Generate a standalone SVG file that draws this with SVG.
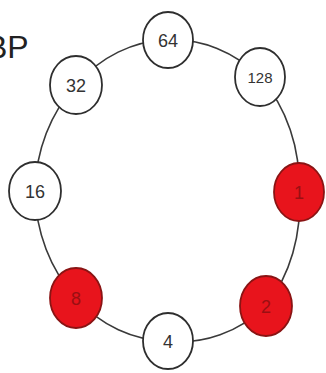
<svg xmlns="http://www.w3.org/2000/svg" width="326" height="373" viewBox="0 0 326 373">
  <style>
    .ring { fill: none; stroke: #3a3a3a; stroke-width: 1.6; }
    .node ellipse { fill: #ffffff; stroke: #2e2e2e; stroke-width: 1.8; }
    .node.on ellipse { fill: #e8141c; stroke: #8a1414; }
    .node text { font-family: "Liberation Sans", Arial, sans-serif; font-size: 18px; fill: #333333; text-anchor: middle; }
    .node.on text { fill: #9a0f12; }
    .title { font-family: "Liberation Sans", Arial, sans-serif; font-size: 32px; fill: #222222; }
  </style>
  <rect width="326" height="373" fill="#ffffff"/>
  <text class="title" x="-14" y="58">BP</text>

  <!-- ring connectors between neighbouring nodes -->
  <g id="connectors">
    <path class="ring" d="M168 40 A132 151 0 0 1 260 77"/>
    <path class="ring" d="M260 77 A132 151 0 0 1 299 192"/>
    <path class="ring" d="M299 192 A132 151 0 0 1 266 306"/>
    <path class="ring" d="M266 306 A132 151 0 0 1 168 341"/>
    <path class="ring" d="M168 341 A132 151 0 0 1 76 298"/>
    <path class="ring" d="M76 298 A132 151 0 0 1 35 191"/>
    <path class="ring" d="M35 191 A132 151 0 0 1 76 85"/>
    <path class="ring" d="M76 85 A132 151 0 0 1 168 40"/>
  </g>

  <g id="n64" class="node"><ellipse cx="168" cy="40" rx="25" ry="28"/><text x="168" y="47">64</text></g>
  <g id="n128" class="node"><ellipse cx="260" cy="77" rx="25" ry="29"/><text x="260" y="83" style="font-size:15px">128</text></g>
  <g id="n1" class="node on"><ellipse cx="299" cy="192" rx="25" ry="29"/><text x="299" y="199">1</text></g>
  <g id="n2" class="node on"><ellipse cx="266" cy="306" rx="26" ry="30"/><text x="266" y="313">2</text></g>
  <g id="n4" class="node"><ellipse cx="168" cy="341" rx="25" ry="28"/><text x="168" y="348">4</text></g>
  <g id="n8" class="node on"><ellipse cx="76" cy="298" rx="26" ry="30"/><text x="76" y="305">8</text></g>
  <g id="n16" class="node"><ellipse cx="35" cy="191" rx="26" ry="29"/><text x="35" y="198">16</text></g>
  <g id="n32" class="node"><ellipse cx="76" cy="85" rx="26" ry="29"/><text x="76" y="92">32</text></g>
</svg>
